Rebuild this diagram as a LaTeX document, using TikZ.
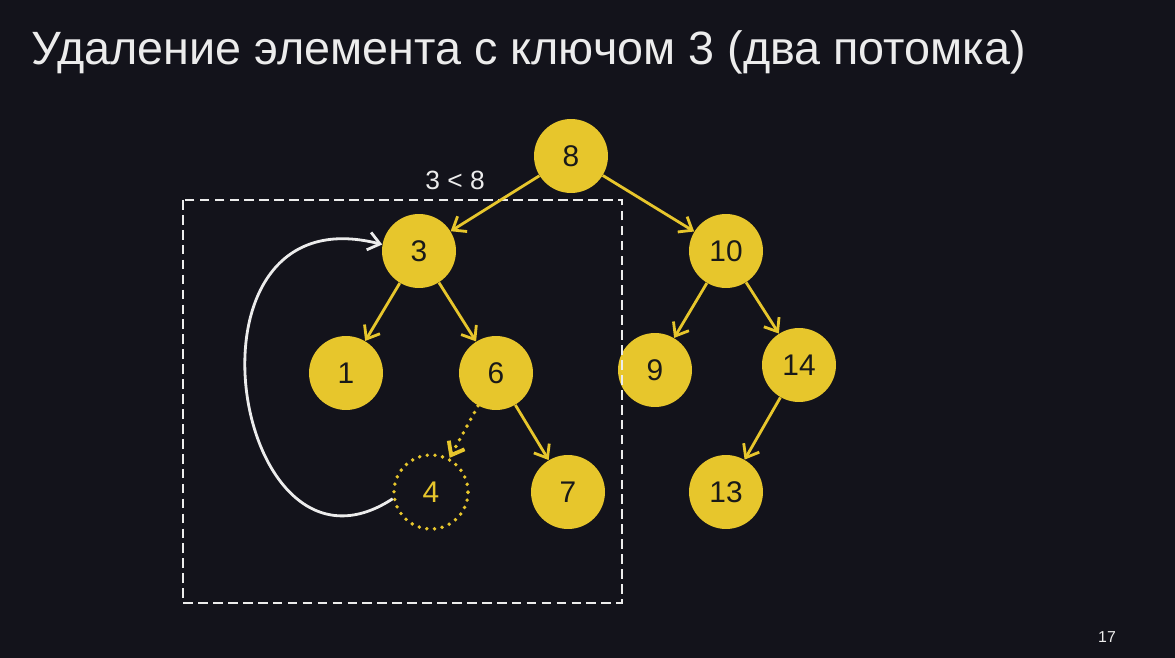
\documentclass[tikz,border=0pt]{standalone}
\usepackage{fontspec}
\setmainfont{Liberation Sans}
\usetikzlibrary{arrows.meta, positioning}
\definecolor{bgdark}{RGB}{19,19,27}
\definecolor{keyyellow}{RGB}{231,198,44}
\definecolor{paleline}{RGB}{236,236,236}
\tikzstyle{key} = [circle, minimum size=1.48cm, inner sep=0pt, fill=keyyellow, text=black!90, font=\fontsize{17}{19}\selectfont]
\tikzstyle{gone} = [key, fill=none, draw=keyyellow, line width=2.2pt, dash pattern=on 0pt off 4.4pt, line cap=round, text=keyyellow]
\tikzstyle{edge} = [keyyellow, line width=1.6pt, -{Straight Barb[length=2.3mm, width=3.6mm]}]
\tikzstyle{movearrow} = [paleline, line width=1.6pt, -{Straight Barb[length=2.3mm, width=3.6mm]}]

\begin{document}
\begin{tikzpicture}[x=0.02cm, y=-0.02cm]
        \fill[bgdark] (0,0) rectangle (1175,658);
        \node (title) [anchor=base west, text=paleline, font=\fontsize{26.6}{30}\selectfont] at (25,65) {Удаление элемента с ключом 3 (два потомка)};

        \node (k8) [key] at (571,156) {8};
        \node (k3) [key] at (419,251) {3};
        \node (k10) [key] at (726,251) {10};
        \node (k1) [key] at (346,373) {1};
        \node (k6) [key] at (496,373) {6};
        \node (k9) [key] at (655,370) {9};
        \node (k14) [key] at (799,365) {14};
        \node (k4) [gone] at (431,492) {4};
        \node (k7) [key] at (568,492) {7};
        \node (k13) [key] at (726,492) {13};

        \draw [paleline, line width=1.3pt, dash pattern=on 5.5pt off 3pt] (183,200) rectangle (622,603);
        \node (cmp) [text=paleline, font=\fontsize{15}{17}\selectfont] at (455,180) {3 < 8};

        \draw [edge] (k8) -- (k3);
        \draw [edge] (k8) -- (k10);
        \draw [edge] (k3) -- (k1);
        \draw [edge] (k3) -- (k6);
        \draw [edge, dash pattern=on 0pt off 4.4pt, line cap=round, line width=2.2pt] (k6) -- (k4);
        \draw [edge] (k6) -- (k7);
        \draw [edge] (k10) -- (k9);
        \draw [edge] (k10) -- (k14);
        \draw [edge] (k14) -- (k13);

        \draw [movearrow] (k4.190) .. controls +(-160,105) and +(-215,-55) .. (k3.170);

        \node (page) [text=paleline, font=\fontsize{9}{10}\selectfont] at (1107,637) {17};
\end{tikzpicture}
\end{document}
